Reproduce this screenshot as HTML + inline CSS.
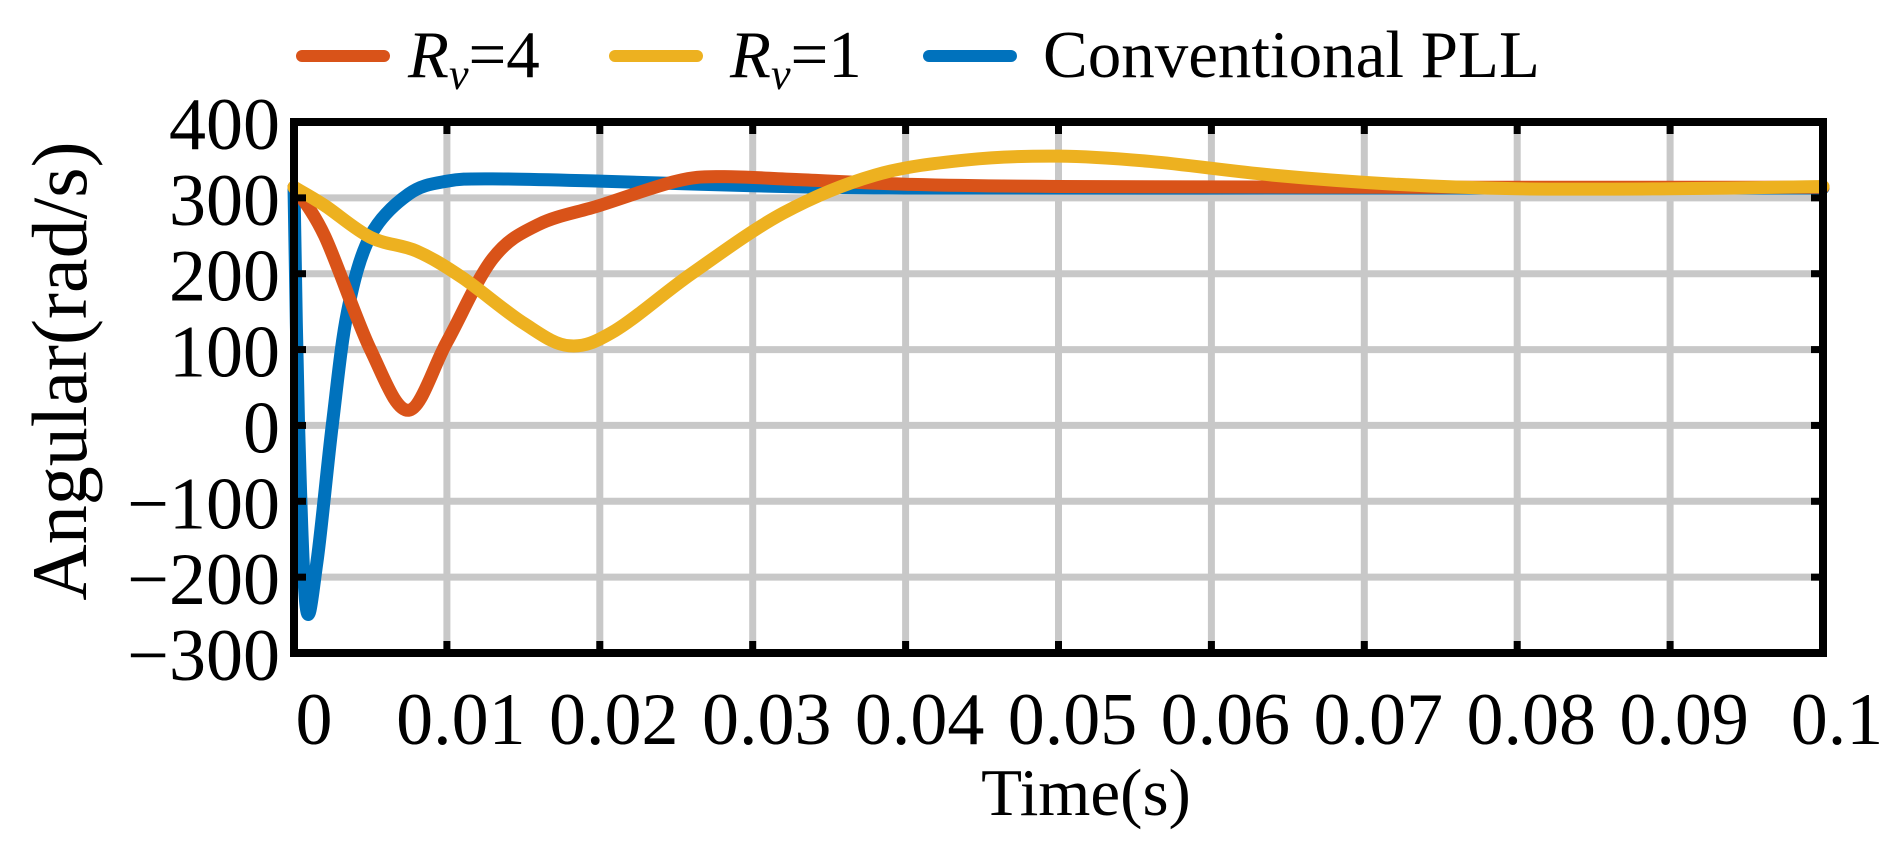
<!DOCTYPE html>
<html><head><meta charset="utf-8"><style>
html,body{margin:0;padding:0;background:#fff;}
svg{display:block;}
text{font-family:"Liberation Serif",serif;fill:#000;}
</style></head><body>
<svg id="s" width="1891" height="859" viewBox="0 0 1891 859" xmlns="http://www.w3.org/2000/svg">
<g id="grid" stroke="#c8c8c8" stroke-width="7"></g>
<g id="curves" fill="none" stroke-width="13" stroke-linecap="round" stroke-linejoin="round"></g>
<g id="ticks" stroke="#000" stroke-width="7"></g>
<rect x="294" y="122" width="1529" height="531" fill="none" stroke="#000" stroke-width="8"/>
<g id="labels" font-size="74"></g>
<text x="1086" y="815" font-size="67" text-anchor="middle">Time(s)</text>
<text transform="translate(86,371) rotate(-90)" font-size="78" text-anchor="middle">Angular(rad/s)</text>
<!-- legend -->
<line x1="302" y1="56" x2="384" y2="56" stroke="#d95319" stroke-width="12" stroke-linecap="round"/>
<text x="408" y="77" font-size="67"><tspan font-style="italic">R</tspan><tspan font-style="italic" font-size="44" dy="12">v</tspan><tspan dy="-12">=4</tspan></text>
<line x1="615" y1="56" x2="697" y2="56" stroke="#edb120" stroke-width="12" stroke-linecap="round"/>
<text x="730" y="77" font-size="67"><tspan font-style="italic">R</tspan><tspan font-style="italic" font-size="44" dy="12">v</tspan><tspan dy="-12">=1</tspan></text>
<line x1="929" y1="56" x2="1011" y2="56" stroke="#0072bd" stroke-width="12" stroke-linecap="round"/>
<text x="1043" y="77" font-size="67">Conventional PLL</text>
</svg>
<script>
var NS="http://www.w3.org/2000/svg";
function el(p,n,a,t){var e=document.createElementNS(NS,n);for(var k in a)e.setAttribute(k,a[k]);if(t!=null)e.textContent=t;document.getElementById(p).appendChild(e);return e;}
var X0=294,X1=1823,Y0=122,Y1=653;
function px(t){return X0+(X1-X0)*t/0.1;}
function py(v){return Y0+(400-v)*(Y1-Y0)/700;}
for(var k=1;k<10;k++){var x=px(k*0.01);el("grid","line",{x1:x,y1:Y0,x2:x,y2:Y1});el("ticks","line",{x1:x,y1:Y1,x2:x,y2:Y1-12});el("ticks","line",{x1:x,y1:Y0,x2:x,y2:Y0+12});}
for(var v=-200;v<=300;v+=100){var y=py(v);el("grid","line",{x1:X0,y1:y,x2:X1,y2:y});el("ticks","line",{x1:X0,y1:y,x2:X0+12,y2:y});el("ticks","line",{x1:X1,y1:y,x2:X1-12,y2:y});}
var xl=["0","0.01","0.02","0.03","0.04","0.05","0.06","0.07","0.08","0.09","0.1"];
for(var k=0;k<=10;k++){el("labels","text",{x:px(k*0.01)+(k==0?20:14),y:744,"text-anchor":"middle"},xl[k]);}
for(var v=-300;v<=400;v+=100){el("labels","text",{x:280,y:py(v)+27,"text-anchor":"end"},(v<0?"\u2212":"")+Math.abs(v));}
function path(pts,col){
 var P=pts.map(function(a){return [px(a[0]),py(a[1])];});
 var d="M"+P[0][0]+","+P[0][1];
 for(var i=0;i<P.length-1;i++){
  var p0=P[i-1]||P[i],p1=P[i],p2=P[i+1],p3=P[i+2]||P[i+1];
  var c1=[p1[0]+(p2[0]-p0[0])/6,p1[1]+(p2[1]-p0[1])/6],c2=[p2[0]-(p3[0]-p1[0])/6,p2[1]-(p3[1]-p1[1])/6];
  d+=" C"+c1+" "+c2+" "+p2;
 }
 el("curves","path",{d:d,stroke:col});
}
path([[0,314],[0.0003,0],[0.0008,-240],[0.0015,-180],[0.0025,0],[0.0035,150],[0.005,250],[0.0075,305],[0.01,322],[0.013,325],[0.02,322],[0.03,316],[0.04,313],[0.07,313],[0.1,313]],"#0072bd");
path([[0,314],[0.002,250],[0.005,100],[0.0075,20],[0.01,110],[0.013,220],[0.016,265],[0.02,290],[0.025,322],[0.028,328],[0.033,324],[0.04,318],[0.05,315],[0.075,314],[0.1,314]],"#d95319");
path([[0,314],[0.002,290],[0.005,248],[0.008,230],[0.011,195],[0.015,135],[0.018,105],[0.021,125],[0.026,200],[0.032,280],[0.038,330],[0.044,350],[0.05,355],[0.056,348],[0.064,330],[0.072,318],[0.08,312],[0.09,312],[0.1,315]],"#edb120");
</script>
</body></html>
